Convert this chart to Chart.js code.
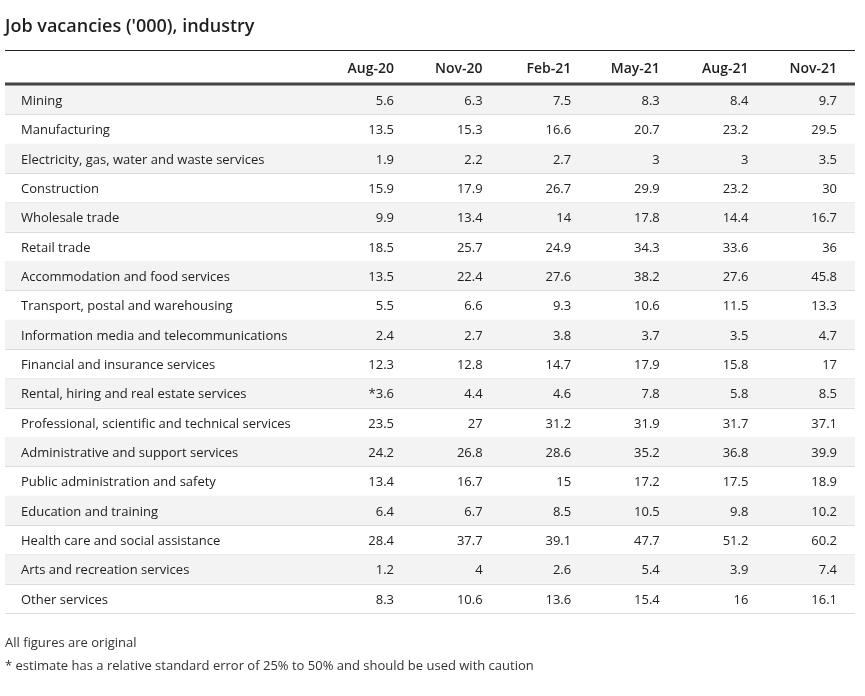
<!DOCTYPE html>
<html>
<head>
<meta charset="utf-8">
<script src="https://cdn.jsdelivr.net/npm/chart.js@4.4.1/dist/chart.umd.min.js"></script>
<style>
  html, body { margin: 0; padding: 0; background: #fff; }
  #wrap { width: 865px; height: 696px; position: relative; }
</style>
</head>
<body>
<div id="wrap"><canvas id="table-canvas"></canvas></div>
<script>
var title = "Job vacancies ('000), industry";
var notes = [
	"All figures are original",
	"* estimate has a relative standard error of 25% to 50% and should be used with caution"
];

var months = ["Aug-20", "Nov-20", "Feb-21", "May-21", "Aug-21", "Nov-21"];

var industries = [
	"Mining",
	"Manufacturing",
	"Electricity, gas, water and waste services",
	"Construction",
	"Wholesale trade",
	"Retail trade",
	"Accommodation and food services",
	"Transport, postal and warehousing",
	"Information media and telecommunications",
	"Financial and insurance services",
	"Rental, hiring and real estate services",
	"Professional, scientific and technical services",
	"Administrative and support services",
	"Public administration and safety",
	"Education and training",
	"Health care and social assistance",
	"Arts and recreation services",
	"Other services"
];

var aug20 = [5.6, 13.5, 1.9, 15.9, 9.9, 18.5, 13.5, 5.5, 2.4, 12.3, 3.6, 23.5, 24.2, 13.4, 6.4, 28.4, 1.2, 8.3];
var nov20 = [6.3, 15.3, 2.2, 17.9, 13.4, 25.7, 22.4, 6.6, 2.7, 12.8, 4.4, 27, 26.8, 16.7, 6.7, 37.7, 4, 10.6];
var feb21 = [7.5, 16.6, 2.7, 26.7, 14, 24.9, 27.6, 9.3, 3.8, 14.7, 4.6, 31.2, 28.6, 15, 8.5, 39.1, 2.6, 13.6];
var may21 = [8.3, 20.7, 3, 29.9, 17.8, 34.3, 38.2, 10.6, 3.7, 17.9, 7.8, 31.9, 35.2, 17.2, 10.5, 47.7, 5.4, 15.4];
var aug21 = [8.4, 23.2, 3, 23.2, 14.4, 33.6, 27.6, 11.5, 3.5, 15.8, 5.8, 31.7, 36.8, 17.5, 9.8, 51.2, 3.9, 16];
var nov21 = [9.7, 29.5, 3.5, 30, 16.7, 36, 45.8, 13.3, 4.7, 17, 8.5, 37.1, 39.9, 18.9, 10.2, 60.2, 7.4, 16.1];

// cells flagged with "*" (row index, column index)
var caution = [[10, 0]];

var series = [aug20, nov20, feb21, may21, aug21, nov21];

var FONT = "'Open Sans', sans-serif";
var tableLeft = 5, tableRight = 855;
var textNudge = 1.5; // canvas "middle" sits a bit high for this font

function isFlagged(row, col) {
	for (var i = 0; i < caution.length; i++) {
		if (caution[i][0] === row && caution[i][1] === col) return true;
	}
	return false;
}

// one invisible point per cell, the plugin writes the value at the point
var datasets = series.map(function (values, col) {
	return {
		label : months[col],
		data : values.map(function (v, row) {
			return { x : months[col], y : industries[row], v : v };
		}),
		pointRadius : 0,
		pointHoverRadius : 0
	};
});

var tablePlugin = {
	id : "tableCells",
	beforeDatasetsDraw : function (chart) {
		var ctx = chart.ctx;
		var y = chart.scales.y;
		var band = (y.getPixelForValue(1) - y.getPixelForValue(0));
		ctx.save();
		industries.forEach(function (name, i) {
			var mid = y.getPixelForValue(i);
			var top = mid - band / 2;
			if (i % 2 === 0) {
				ctx.fillStyle = "#f3f3f3";
				ctx.fillRect(tableLeft, top, tableRight - tableLeft, band);
			}
			ctx.strokeStyle = "#dcdcdc";
			ctx.lineWidth = 1;
			ctx.beginPath();
			ctx.moveTo(tableLeft, Math.round(top + band) + 0.5);
			ctx.lineTo(tableRight, Math.round(top + band) + 0.5);
			ctx.stroke();
		});
		ctx.restore();
	},
	afterDatasetsDraw : function (chart) {
		var ctx = chart.ctx;
		var x = chart.scales.x;
		var y = chart.scales.y;
		var band = (y.getPixelForValue(1) - y.getPixelForValue(0));
		ctx.save();

		// title
		ctx.fillStyle = "#1e1e1e";
		ctx.textBaseline = "alphabetic";
		ctx.textAlign = "left";
		ctx.font = "600 18px " + FONT;
		ctx.fillText(title, 5, 32);

		// top rule and header rule
		ctx.strokeStyle = "#222";
		ctx.lineWidth = 1;
		ctx.beginPath();
		ctx.moveTo(tableLeft, 50.5);
		ctx.lineTo(tableRight, 50.5);
		ctx.stroke();

		var headTop = y.getPixelForValue(0) - band / 2;
		ctx.strokeStyle = "#444";
		ctx.lineWidth = 3;
		ctx.beginPath();
		ctx.moveTo(tableLeft, headTop - 1);
		ctx.lineTo(tableRight, headTop - 1);
		ctx.stroke();

		// column headers
		ctx.textBaseline = "middle";
		ctx.textAlign = "right";
		ctx.font = "600 14px " + FONT;
		ctx.fillStyle = "#1e1e1e";
		months.forEach(function (m, col) {
			ctx.fillText(m, x.getPixelForValue(col), 68 + textNudge);
		});

		// row labels
		ctx.font = "13px " + FONT;
		ctx.fillStyle = "#222";
		ctx.textAlign = "left";
		industries.forEach(function (name, i) {
			ctx.fillText(name, 21, y.getPixelForValue(i) + textNudge);
		});

		// cell values
		ctx.textAlign = "right";
		chart.data.datasets.forEach(function (ds, col) {
			var meta = chart.getDatasetMeta(col);
			meta.data.forEach(function (pt, row) {
				var txt = String(ds.data[row].v);
				if (isFlagged(row, col)) txt = "*" + txt;
				ctx.fillText(txt, pt.x, pt.y + textNudge);
			});
		});

		// notes
		ctx.textAlign = "left";
		ctx.fillStyle = "#333";
		ctx.font = "13px " + FONT;
		ctx.fillText(notes[0], 5, 642 + textNudge);
		ctx.fillText(notes[1], 5, 665 + textNudge);

		ctx.restore();
	}
};

var chart = new Chart(document.getElementById("table-canvas"), {
	type : "scatter",
	data : { datasets : datasets },
	options : {
		responsive : true,
		maintainAspectRatio : false,
		animation : false,
		events : [],
		layout : {
			padding : { left : 394, right : 28, top : 85, bottom : 83 }
		},
		scales : {
			x : {
				type : "category",
				labels : months,
				offset : false,
				display : false
			},
			y : {
				type : "category",
				labels : industries,
				offset : true,
				display : false
			}
		},
		plugins : {
			legend : { display : false },
			tooltip : { enabled : false }
		}
	},
	plugins : [tablePlugin]
});
</script>
</body>
</html>
